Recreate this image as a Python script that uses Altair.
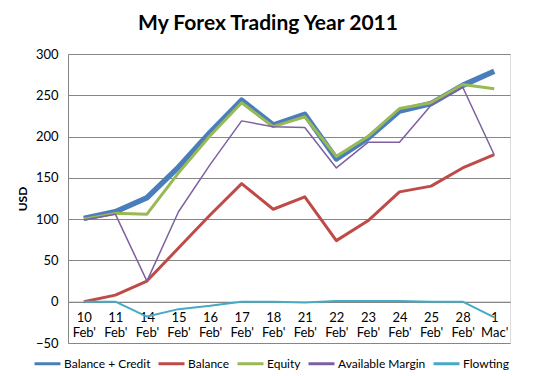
import altair as alt
import pandas as pd

dates = ["10 Feb'", "11 Feb'", "14 Feb'", "15 Feb'", "16 Feb'", "17 Feb'", "18 Feb'",
         "21 Feb'", "22 Feb'", "23 Feb'", "24 Feb'", "25 Feb'", "28 Feb'", "1 Mac'"]
series_names = ["Balance + Credit", "Balance", "Equity", "Available Margin", "Flowting"]
balance_credit = [101, 109, 126, 163, 205, 244, 214, 227, 173, 198, 231, 240, 262, 279]
balance = [0, 8, 25, 65, 105, 143, 112, 127, 74, 98, 133, 140, 162, 178]
equity = [100, 107, 106, 156, 201, 241, 212, 224, 176, 200, 234, 241, 263, 258]
available_margin = [99, 106, 25, 109, 166, 219, 212, 211, 162, 193, 193, 238, 260, 178]
flowting = [0, 0, -18, -9, -5, 0, 0, -1, 1, 1, 1, 0, 0, -19]

colors = ["#4A7EBB", "#BE4B48", "#98B954", "#7D60A0", "#46AAC5"]
widths = [5.5, 3, 3, 1.5, 2]

values = [balance_credit, balance, equity, available_margin, flowting]
rows = []
for name, vals in zip(series_names, values):
    for d, v in zip(dates, vals):
        rows.append({"date": d, "series": name, "value": v})
df = pd.DataFrame(rows)

W, H = 442, 289
FONT = "Lato"

x_enc = alt.X("date:N", sort=dates, scale=alt.Scale(type="point", padding=0.5),
              axis=alt.Axis(title=None, offset=-H / 7, ticks=False, grid=False,
                            domainColor="#868686", labelAngle=0,
                            labelExpr="split(datum.value, ' ')",
                            labelFont=FONT, labelFontSize=13, labelColor="#000",
                            labelPadding=10, labelLineHeight=15))
y_enc = alt.Y("value:Q", scale=alt.Scale(domain=[-50, 300], nice=False, zero=False),
              axis=alt.Axis(values=[-50, 0, 50, 100, 150, 200, 250, 300], title="USD",
                            titleFont=FONT, titleFontSize=12, titleFontWeight="bold",
                            titleColor="#000", titleX=-46, titleY=H / 2,
                            titleBaseline="middle", titleAlign="center",
                            labelFont=FONT, labelFontSize=13, labelColor="#000",
                            ticks=False, labelPadding=10,
                            gridColor="#868686", domainColor="#868686"))
color_enc = alt.Color("series:N", sort=series_names,
                      scale=alt.Scale(domain=series_names, range=colors),
                      legend=alt.Legend(title=None, orient="none", direction="horizontal",
                                        legendX=-35, legendY=295,
                                        symbolType="stroke", symbolSize=676,
                                        symbolStrokeWidth=3,
                                        labelFont=FONT, labelFontSize=12, labelColor="#000",
                                        columnPadding=1, labelOffset=2))

layers = []
for s, w in zip(series_names, widths):
    layers.append(
        alt.Chart(df).transform_filter(alt.datum.series == s)
        .mark_line(strokeWidth=w, strokeJoin="round")
        .encode(x=x_enc, y=y_enc, color=color_enc)
    )

chart = alt.layer(*layers).properties(
    width=W, height=H,
    title=alt.Title("My Forex Trading Year 2011", font=FONT, fontSize=21, fontWeight="bold",
                    color="#000", anchor="middle", dx=-21, offset=14),
    autosize=alt.AutoSizeParams(type="none"),
    padding={"left": 60, "top": 46, "right": 18, "bottom": 30},
).configure_view(stroke=None).configure(background="white")

chart.save("out.html", embed_options={"renderer": "svg", "actions": False})
